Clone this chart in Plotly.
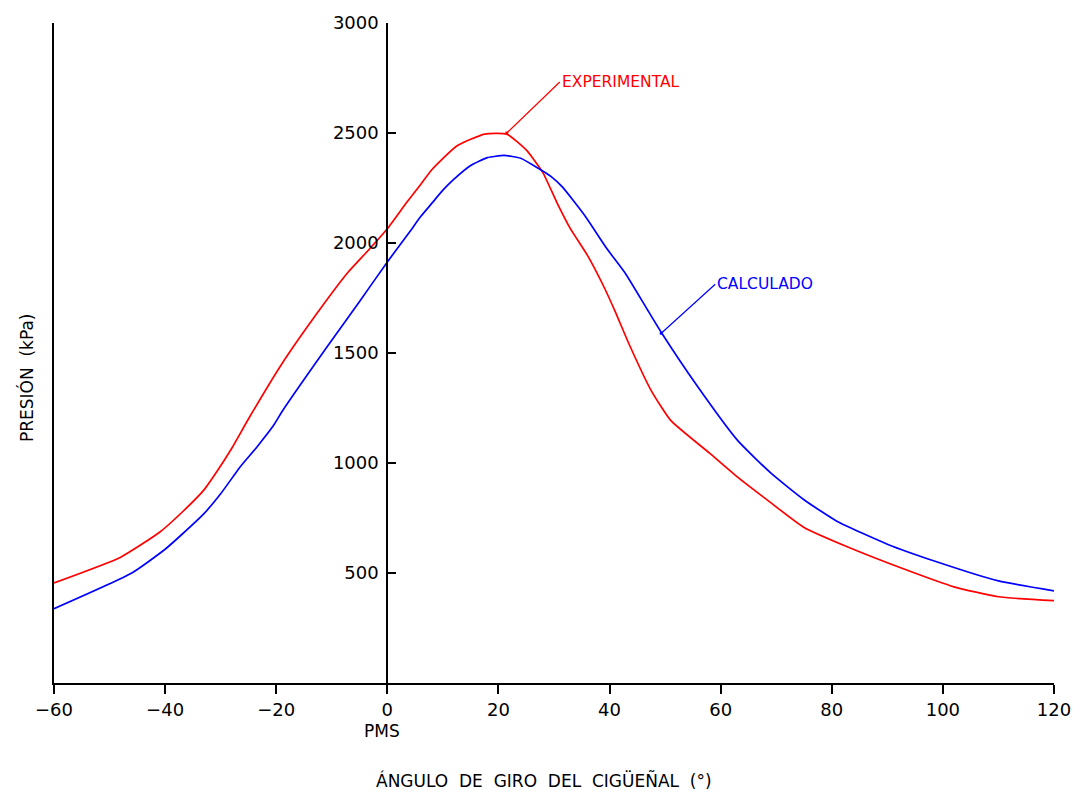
import plotly.graph_objects as go

# Experimental pressure (red)
exp_angle = [-60, -48, -41, -37, -33, -30.5, -28, -25, -19, -12, -7, -3.5, 0, 3.5, 6, 8, 12.5,
             17.5, 21.5, 25, 28, 30.5, 33, 36, 39, 41, 43.5, 47.5, 51, 58, 63, 69, 75,
             83, 93, 102, 110, 120]
exp_press = [455, 572, 685, 775, 878, 968, 1067, 1200, 1450, 1703, 1869, 1965, 2065, 2185, 2266,
             2333, 2441, 2495, 2495, 2423, 2320, 2185, 2063, 1945, 1800, 1689, 1541, 1329,
             1194, 1045, 937, 820, 707, 617, 518, 437, 392, 374]

# Calculated pressure (blue)
cal_angle = [-60, -46, -40, -37, -33, -30, -26.5, -23.5, -20.5, -18.8, -11, -5, 0, 4, 6, 8, 10,
             12, 15, 18, 21, 24, 27, 29.5, 31.5, 35.5, 39.5, 43, 47, 49.5, 55.5, 63, 69, 75,
             81, 90, 99, 110, 120]
cal_press = [338, 500, 608, 675, 770, 860, 982, 1072, 1170, 1240, 1523, 1734, 1914, 2050,
             2120, 2180, 2240, 2290, 2352, 2388, 2398, 2385, 2342, 2302, 2255, 2126, 1975,
             1856, 1689, 1586, 1360, 1104, 955, 833, 734, 631, 550, 464, 419]

x_ticks = [-60, -40, -20, 0, 20, 40, 60, 80, 100, 120]
y_ticks = [500, 1000, 1500, 2000, 2500, 3000]

FONT = "DejaVu Sans"

fig = go.Figure()
fig.add_trace(go.Scatter(x=exp_angle, y=exp_press, mode="lines", name="EXPERIMENTAL",
                         line=dict(color="#ff0000", width=1.7, shape="spline", smoothing=0.5),
                         yaxis="y"))
fig.add_trace(go.Scatter(x=cal_angle, y=cal_press, mode="lines", name="CALCULADO",
                         line=dict(color="#0000ff", width=1.7, shape="spline", smoothing=0.5),
                         yaxis="y2"))

fig.update_layout(
    width=1083, height=799,
    margin=dict(l=54, r=22, t=15, b=116),
    paper_bgcolor="white", plot_bgcolor="white",
    showlegend=False,
    font=dict(family=FONT, color="black"),
    xaxis=dict(range=[-60, 120], tickvals=x_ticks, showline=True, linecolor="black",
               linewidth=2, ticks="outside", ticklen=9, tickwidth=1.5, tickcolor="black",
               showgrid=False, zeroline=False, tickfont=dict(family=FONT, size=18, color="black")),
    yaxis=dict(range=[0, 3000], showline=True, linecolor="black", linewidth=2,
               showticklabels=False, ticks="", showgrid=False, zeroline=False),
    yaxis2=dict(range=[0, 3000], overlaying="y", anchor="free", position=1/3, side="left",
                tickvals=y_ticks, showline=True, linecolor="black", linewidth=2,
                ticks="inside", ticklen=8, tickwidth=1.5, tickcolor="black",
                ticklabelstandoff=4,
                showgrid=False, zeroline=False, tickfont=dict(family=FONT, size=18, color="black")),
)

fig.add_annotation(x=21.5, y=2500, xref="x", yref="y", text="EXPERIMENTAL",
                   showarrow=True, ax=53, ay=-51, arrowhead=7, arrowsize=0.6, arrowwidth=1.2,
                   arrowcolor="#ff0000", xanchor="left", yanchor="middle",
                   font=dict(family=FONT, size=15.5, color="#ff0000"))
fig.add_annotation(x=49.3, y=1590, xref="x", yref="y", text="CALCULADO",
                   showarrow=True, ax=54, ay=-49, arrowhead=7, arrowsize=0.6, arrowwidth=1.2,
                   arrowcolor="#0000ff", xanchor="left", yanchor="middle",
                   font=dict(family=FONT, size=15.5, color="#0000ff"))

fig.add_annotation(x=0, y=-0.072, xref="x", yref="paper", text="PMS", showarrow=False,
                   xshift=-5, xanchor="center", yanchor="middle",
                   font=dict(family=FONT, size=17, color="black"))
fig.add_annotation(x=0.49, y=-0.147, xref="paper", yref="paper",
                   text="ÁNGULO  DE  GIRO  DEL  CIGÜEÑAL  (°)", showarrow=False,
                   xanchor="center", yanchor="middle",
                   font=dict(family=FONT, size=17, color="black"))
fig.add_annotation(x=-0.028, y=0.462, xref="paper", yref="paper",
                   text="PRESIÓN  (kPa)", showarrow=False, textangle=-90,
                   xanchor="center", yanchor="middle",
                   font=dict(family=FONT, size=17, color="black"))

fig.write_html("out.html")
